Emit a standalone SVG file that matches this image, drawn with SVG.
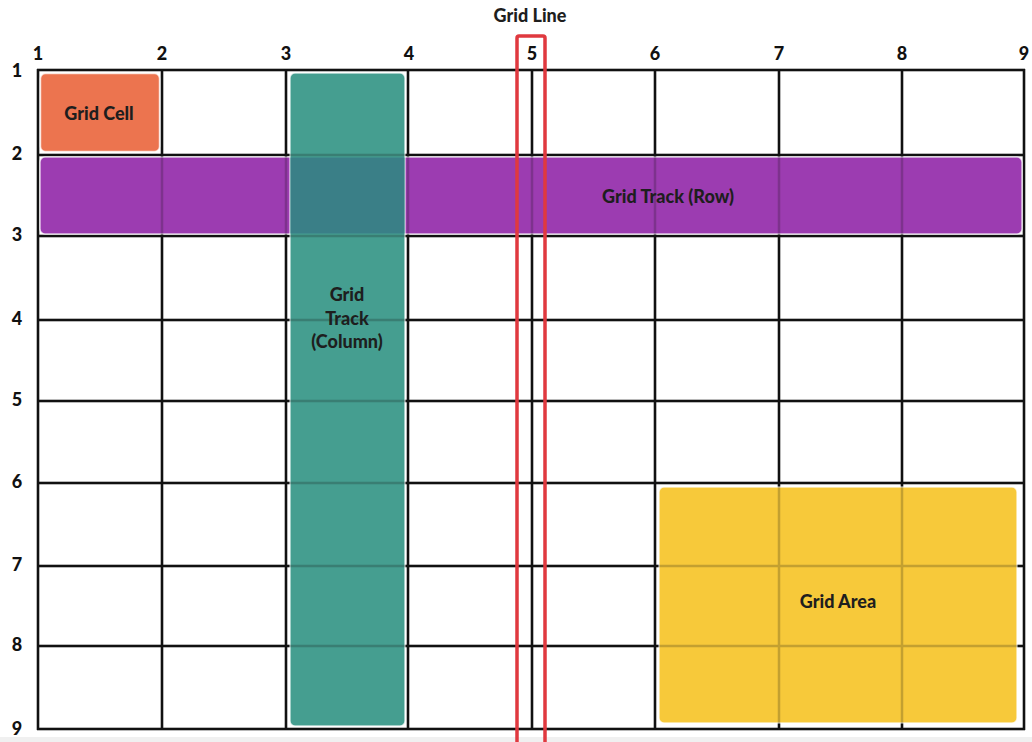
<svg xmlns="http://www.w3.org/2000/svg" width="1032" height="742" viewBox="0 0 1032 742">
<style>
.lbl{font-family:Lato,"Open Sans","Liberation Sans",sans-serif;font-weight:900;font-size:18px;fill:#111;text-anchor:middle}
.in{font-family:Lato,"Open Sans","Liberation Sans",sans-serif;font-weight:900;font-size:18px;fill:#1e1e1e;text-anchor:middle}
.box{stroke:#ffffff;stroke-width:1.5;stroke-opacity:0.7}
</style>
<defs>
<g id="gridlines" stroke="#111" stroke-width="2.5">
<line x1="37" y1="70" x2="1025" y2="70"/>
<line x1="37" y1="155" x2="1025" y2="155"/>
<line x1="37" y1="236" x2="1025" y2="236"/>
<line x1="37" y1="320" x2="1025" y2="320"/>
<line x1="37" y1="401" x2="1025" y2="401"/>
<line x1="37" y1="483" x2="1025" y2="483"/>
<line x1="37" y1="566" x2="1025" y2="566"/>
<line x1="37" y1="646" x2="1025" y2="646"/>
<line x1="37" y1="729" x2="1025" y2="729"/>
<line x1="38" y1="69" x2="38" y2="730"/>
<line x1="162" y1="69" x2="162" y2="730"/>
<line x1="286" y1="69" x2="286" y2="730"/>
<line x1="408" y1="69" x2="408" y2="730"/>
<line x1="532" y1="69" x2="532" y2="730"/>
<line x1="655" y1="69" x2="655" y2="730"/>
<line x1="779" y1="69" x2="779" y2="730"/>
<line x1="902" y1="69" x2="902" y2="730"/>
<line x1="1024" y1="69" x2="1024" y2="730"/>
</g>
</defs>
<rect width="1032" height="742" fill="#ffffff"/>
<rect x="0" y="737" width="1032" height="5" fill="#f0f0f0"/>
<g id="grid"><use href="#gridlines"/></g>
<g id="labels">
<text class="lbl" x="38" y="60">1</text>
<text class="lbl" x="162" y="60">2</text>
<text class="lbl" x="286" y="60">3</text>
<text class="lbl" x="409" y="60">4</text>
<text class="lbl" x="532" y="60">5</text>
<text class="lbl" x="655" y="60">6</text>
<text class="lbl" x="779" y="60">7</text>
<text class="lbl" x="902" y="60">8</text>
<text class="lbl" x="1024" y="60">9</text>
<text class="lbl" x="17" y="77">1</text>
<text class="lbl" x="17" y="160">2</text>
<text class="lbl" x="17" y="241">3</text>
<text class="lbl" x="17" y="325">4</text>
<text class="lbl" x="17" y="406">5</text>
<text class="lbl" x="17" y="488">6</text>
<text class="lbl" x="17" y="571">7</text>
<text class="lbl" x="17" y="651">8</text>
<text class="lbl" x="17" y="735">9</text>
</g>
<g id="grid-cell">
<rect class="box" x="40.5" y="73.5" width="119" height="78" rx="5" fill="#ec744f"/>
<text class="in" x="99" y="120">Grid Cell</text>
</g>
<g id="grid-track-row">
<rect class="box" x="40" y="157" width="982" height="77" rx="5" fill="#9c3cb1"/>
</g>
<g id="grid-area">
<rect class="box" x="659" y="487" width="358" height="236" rx="5" fill="#f7c93a"/>
</g>
<g id="grid-track-column">
<rect class="box" x="290" y="73" width="115" height="653" rx="5" fill="#459e90"/>
<rect x="290.5" y="157.5" width="114" height="76" fill="#3a7f87"/>
</g>
<g id="grid-overlay" opacity="0.22"><use href="#gridlines"/></g>
<g id="inner-labels">
<text class="in" x="668" y="203">Grid Track (Row)</text>
<text class="in" x="347" y="301">Grid</text>
<text class="in" x="347" y="325">Track</text>
<text class="in" x="347" y="348">(Column)</text>
<text class="in" x="838" y="608">Grid Area</text>
</g>
<g id="grid-line">
<text class="in" x="530" y="22">Grid Line</text>
<path d="M517 745 V38 Q517 36 519 36 H543 Q545 36 545 38 V745" fill="none" stroke="#e0393f" stroke-width="3.5"/>
</g>
</svg>
